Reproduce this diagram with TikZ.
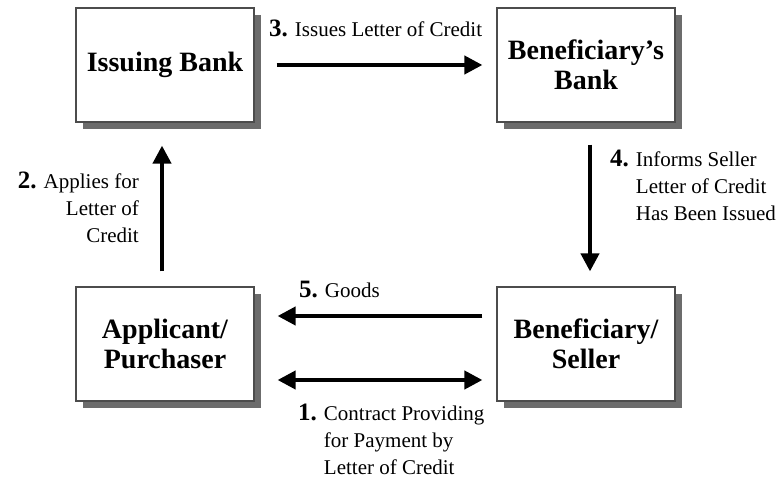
\documentclass[tikz,border=0pt]{standalone}
\usepackage{fontspec}
\setmainfont{Liberation Serif}
\usetikzlibrary{arrows.meta,shadows}
\newcommand\numb[1]{{\fontsize{25}{27}\selectfont\bfseries #1}}
\begin{document}
\begin{tikzpicture}[x=1pt,y=-1pt,
 box/.style={draw=gray!60!black, line width=1.2pt, fill=white, minimum width=178pt, minimum height=114pt, align=center, inner sep=0pt,
   font=\fontsize{28}{30}\selectfont\bfseries,
   drop shadow={shadow xshift=7pt, shadow yshift=-7pt, fill=gray!85!black, opacity=1}},
 arr/.style={line width=4pt, -{Triangle[length=18pt,width=18pt]}},
 darr/.style={line width=4pt, {Triangle[length=18pt,width=18pt]}-{Triangle[length=18pt,width=18pt]}},
 lbl/.style={inner sep=0pt, font=\fontsize{21}{27}\selectfont}]
\fill[white] (0,0) rectangle (782,481);
\useasboundingbox (0,0) rectangle (782,481);
\node[box] (ib) at (165,65) {Issuing Bank};
\node[box] (bb) at (586,65) {Beneficiary’s\\Bank};
\node[box] (ap) at (165,344) {Applicant/\\Purchaser};
\node[box] (bs) at (586,344) {Beneficiary/\\Seller};
% arrows
\draw[arr, shorten <=22pt, shorten >=14pt] (ib.east) -- (bb.west);
\draw[arr, shorten <=15pt, shorten >=23pt] ([xshift=-3pt]ap.north) -- ([xshift=-3pt]ib.south);
\draw[arr, shorten <=22pt, shorten >=15pt] ([xshift=4pt]bb.south) -- ([xshift=4pt]bs.north);
\draw[arr, shorten <=14pt, shorten >=23pt] ([yshift=28pt]bs.west) -- ([yshift=28pt]ap.east);
\draw[darr, shorten <=23pt, shorten >=14pt] ([yshift=-36pt]ap.east) -- ([yshift=-36pt]bs.west);
% labels
\node[lbl, anchor=base west] (l3) at (269,37) {\numb{3.} Issues Letter of Credit};
\node[lbl, anchor=base east, align=right] (l2) at (139,243) {\numb{2.} Applies for\\Letter of\\Credit};
\node[lbl, anchor=base west, align=left] (l4) at (610,221) {\numb{4.} Informs Seller\\\hphantom{\numb{4.} }Letter of Credit\\\hphantom{\numb{4.} }Has Been Issued};
\node[lbl, anchor=base west] (l5) at (299,297) {\numb{5.} Goods};
\node[lbl, anchor=base west, align=left] (l1) at (298,474) {\numb{1.} Contract Providing\\\hphantom{\numb{1.} }for Payment by\\\hphantom{\numb{1.} }Letter of Credit};
\end{tikzpicture}
\end{document}
